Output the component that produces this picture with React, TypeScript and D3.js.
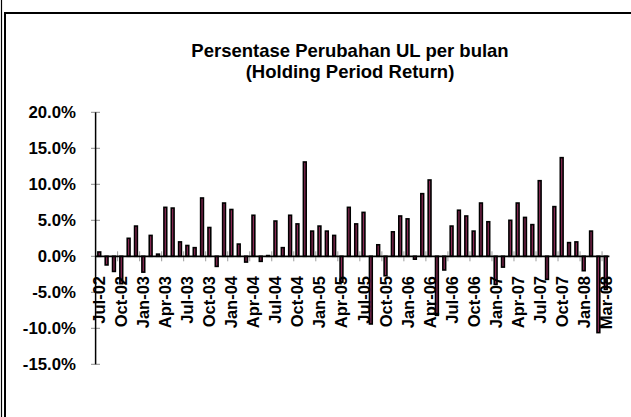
import React from 'react';
import * as d3 from 'd3';

// Monthly holding period return (%) Jul-02 ... (70 bars)
const values: number[] = [
  0.6, -1.2, -2.1, -3.8, 2.5, 4.2, -2.2, 2.9, 0.3, 6.8, 6.7, 2.0,
  1.5, 1.2, 8.1, 4.0, -1.4, 7.4, 6.5, 1.7, -0.8, 5.7, -0.7, 0.1,
  4.9, 1.2, 5.7, 4.5, 13.1, 3.5, 4.2, 3.5, 2.9, -3.6, 6.8, 4.5,
  6.1, -9.4, 1.6, -2.7, 3.4, 5.6, 5.2, -0.4, 8.7, 10.6, -8.2, -1.9,
  4.2, 6.4, 5.6, 3.5, 7.4, 4.8, -3.9, -1.5, 5.0, 7.4, 5.4, 4.4,
  10.5, -3.2, 6.9, 13.7, 1.9, 2.0, -2.0, 3.5, -10.6, -4.6,
];

// Category labels shown every 3rd bar
const tickLabels: string[] = [
  'Jul-02', 'Oct-02', 'Jan-03', 'Apr-03', 'Jul-03', 'Oct-03', 'Jan-04', 'Apr-04',
  'Jul-04', 'Oct-04', 'Jan-05', 'Apr-05', 'Jul-05', 'Oct-05', 'Jan-06', 'Apr-06',
  'Jul-06', 'Oct-06', 'Jan-07', 'Apr-07', 'Jul-07', 'Oct-07', 'Jan-08', 'Mar-08',
];
const labelEvery = 3;

const yTicks: number[] = [20, 15, 10, 5, 0, -5, -10, -15];

const titleLines: string[] = ['Persentase Perubahan UL per bulan', '(Holding Period Return)'];

const FONT = '"Liberation Sans", Arial, Helvetica, sans-serif';

export default function App() {
  const W = 631;
  const H = 417;
  const left = 95.6;
  const right = 609.4;
  const x = d3
    .scaleBand<number>()
    .domain(d3.range(values.length))
    .range([left, right])
    .padding(0);
  const y = d3.scaleLinear().domain([-15, 20]).range([364.3, 112.3]);
  const bw = 2.8;
  const y0 = y(0);

  const boundaryTicks = d3.range(labelEvery, values.length, labelEvery).map((i) => x(i) as number);

  return (
    <svg
      width={W}
      height={H}
      style={{ position: 'absolute', left: 0, top: 0, background: '#fff' }}
      fontFamily={FONT}
    >
      <rect x={0} y={0} width={W} height={H} fill="#fff" />
      {/* frame */}
      <line x1={1.5} y1={0} x2={1.5} y2={H} stroke="#000" strokeWidth={1.2} />
      <rect x={5} y={13} width={W + 50} height={H + 50} fill="none" stroke="#000" strokeWidth={2} />

      {/* title */}
      {titleLines.map((t, i) => (
        <text
          key={t}
          x={350}
          y={57 + i * 21}
          textAnchor="middle"
          fontSize={18.5}
          fontWeight="bold"
          fill="#000"
        >
          {t}
        </text>
      ))}

      {/* y ticks and labels */}
      {yTicks.map((v) => (
        <g key={v}>
          <line x1={91} x2={100} y1={y(v)} y2={y(v)} stroke="#8c8c8c" strokeWidth={1} />
          <text
            x={76}
            y={y(v)}
            textAnchor="end"
            dominantBaseline="central"
            fontSize={16.8}
            fontWeight="bold"
            fill="#000"
          >
            {`${v.toFixed(1)}%`}
          </text>
        </g>
      ))}

      {/* x tick marks */}
      {boundaryTicks.map((bx, i) => (
        <line key={i} x1={bx} x2={bx} y1={y0 - 5} y2={y0 + 5} stroke="#9a9a9a" strokeWidth={1} />
      ))}

      {/* bars */}
      {values.map((v, i) => {
        const cx = (x(i) as number) + x.bandwidth() / 2;
        const top = y(Math.max(0, v));
        const bot = y(Math.min(0, v));
        return (
          <rect
            key={i}
            x={cx - bw / 2}
            y={top}
            width={bw}
            height={Math.max(0.5, bot - top)}
            fill="#8a2a55"
            stroke="#000"
            strokeWidth={1.6}
          />
        );
      })}

      {/* axes */}
      <line x1={left} x2={left} y1={y(20)} y2={y(-15)} stroke="#000" strokeWidth={1.5} />
      <line x1={left} x2={right} y1={y0} y2={y0} stroke="#000" strokeWidth={1.8} />

      {/* x labels */}
      {tickLabels.map((t, k) => {
        const i = k * labelEvery;
        const cx = (x(i) as number) + x.bandwidth() / 2;
        return (
          <text
            key={t}
            transform={`translate(${cx},276) rotate(-90)`}
            textAnchor="end"
            dominantBaseline="central"
            fontSize={16.5}
            fontWeight="bold"
            fill="#000"
          >
            {t}
          </text>
        );
      })}
    </svg>
  );
}
